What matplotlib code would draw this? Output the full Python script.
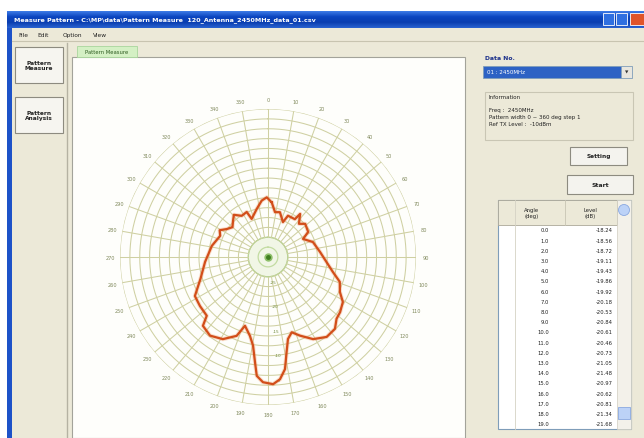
import numpy as np
import matplotlib
matplotlib.use("Agg")
import matplotlib.pyplot as plt
from matplotlib.patches import Rectangle, Circle
from matplotlib.colors import LinearSegmentedColormap

# pattern trace (deg clockwise from top, dB)
pattern_deg = [3.9, 8.9, 14.9, 23.2, 25.8, 35.4, 36.7, 43.0, 48.3, 58.0, 62.8, 71.6,
               84.5, 94.9, 103.0, 109.1, 115.9, 121.0, 127.4, 132.0, 137.0, 143.7,
               151.2, 157.9, 162.5, 166.3, 168.9, 171.4, 174.4, 177.7, 182.3, 185.4,
               187.1, 189.6, 192.9, 198.5, 201.7, 208.8, 216.4, 223.4, 226.2, 234.2,
               241.9, 252.0, 265.5, 281.3, 293.9, 299.0, 304.1, 310.0, 316.0, 321.0,
               327.5, 334.7, 336.8, 346.8, 353.6, 358.8]
pattern_db = [-18.9, -20.8, -20.6, -22.3, -20.7, -20.6, -19.1, -20.8, -19.9, -20.4, -22.0, -20.4,
              -19.4, -18.1, -16.5, -14.6, -13.8, -12.3, -11.6, -11.3, -10.1, -9.9,
              -11.0, -12.8, -14.0, -12.9, -10.4, -7.0, -5.1, -4.2, -4.6, -5.8,
              -8.6, -11.8, -13.6, -15.3, -12.8, -11.0, -10.2, -10.8, -12.8, -13.0,
              -13.2, -15.6, -17.2, -18.4, -19.4, -18.8, -19.9, -20.6, -19.8, -19.0,
              -20.1, -19.9, -21.6, -20.0, -18.5, -17.9]

angle_labels = list(range(0, 360, 10))
ring_levels = list(range(-26, 1, 2))
radial_labels = [-25, -20, -15, -10, -5]

table_angle = [float(a) for a in range(20)]
table_level = ["-18.24", "-18.56", "-18.72", "-19.11", "-19.43", "-19.86", "-19.92",
               "-20.18", "-20.53", "-20.84", "-20.61", "-20.46", "-20.73", "-21.05",
               "-21.48", "-20.97", "-20.62", "-20.81", "-21.34", "-21.68"]

menu_items = ["File", "Edit", "Option", "View"]
info_lines = ["Freq :  2450MHz", "Pattern width 0 ~ 360 deg step 1", "Ref TX Level :  -10dBm"]

W, H = 644, 439
fig = plt.figure(figsize=(W / 100, H / 100), dpi=100)
fig.patch.set_facecolor("white")
bg = fig.add_axes([0, 0, 1, 1])
bg.axis("off")

BEIGE = "#ece9d8"


def box(x, y, w, h, fc, ec="none", lw=0.8, z=1):
    bg.add_patch(Rectangle((x, y), w, h, facecolor=fc, edgecolor=ec, lw=lw, zorder=z))


def txt(x, y, s, size=4.3, color="#222222", z=5, **kw):
    kw.setdefault("va", "center")
    bg.text(x, y, s, fontsize=size, color=color, zorder=z, **kw)


# window frame
box(7, 29, W - 7, H - 29, BEIGE)
grad = np.linspace(0, 1, 40).reshape(-1, 1)
tcm = LinearSegmentedColormap.from_list("t", ["#3d7be6", "#0b45c0", "#0a3eb0", "#2a62d0"])
bg.imshow(grad, extent=[7, W, 29, 12], cmap=tcm, aspect="auto", zorder=2)
txt(14, 20.5, "Measure Pattern - C:\\MP\\data\\Pattern Measure  120_Antenna_2450MHz_data_01.csv",
    size=4.6, color="white", z=6, fontweight="bold")
box(603, 14, 11, 12, "#2f6fe0", ec="white", lw=0.6, z=4)
box(616, 14, 11, 12, "#2f6fe0", ec="white", lw=0.6, z=4)
box(630, 14, 14, 12, "#e0542a", ec="white", lw=0.6, z=4)
box(7, 29, 5, H - 29, "#1d52c8", z=3)

# menu
for x, s in zip([18, 37, 63, 93], menu_items):
    txt(x, 35.5, s, size=4.2)
bg.plot([12, W], [42, 42], color="#c8c4b0", lw=0.8, zorder=3)

# left buttons
for y0, s in [(48, "Pattern\nMeasure"), (98, "Pattern\nAnalysis")]:
    box(15, y0, 48, 36, "#f6f5f0", ec="#8d8b80", lw=0.8, z=3)
    txt(39, y0 + 18, s, size=4.2, ha="center", fontweight="bold", linespacing=1.2)
bg.plot([67, 67], [44, H], color="#b5b2a2", lw=1.0, zorder=3)

# tab + chart panel
box(77, 47, 60, 11, "#d4f0c4", ec="#a9d69c", lw=0.6, z=3)
txt(107, 52.5, "Pattern Measure", size=3.8, ha="center", color="#2d5a20")
box(72, 58, 393, H - 58, "#fefefb", ec="#a3a39a", lw=0.8, z=2)

# right panel
txt(485, 58, "Data No.", size=4.4, color="#1a2f8a", fontweight="bold")
box(483, 67, 138, 12, "#2d62c4", ec="#7f9db9", lw=0.6, z=3)
txt(487, 73, "01 : 2450MHz", size=4.0, color="white")
box(621, 67, 11, 12, "#e8e6de", ec="#7f9db9", lw=0.6, z=3)
txt(626.5, 73, "\u25bc", size=3.2, ha="center", color="#333333")

box(485, 93, 148, 48, BEIGE, ec="#c9c6b4", lw=0.8, z=3)
txt(489, 98, "Information", size=4.0)
for i, s in enumerate(info_lines):
    txt(489, 111 + i * 7, s, size=4.0)

box(570, 148, 57, 18, "#f4f3ee", ec="#8d8b80", lw=0.8, z=3)
txt(598.5, 157, "Setting", size=4.2, ha="center", fontweight="bold")
box(567, 176, 66, 19, "#f4f3ee", ec="#8d8b80", lw=0.8, z=3)
txt(600, 185.5, "Start", size=4.4, ha="center", fontweight="bold")

# table
box(498, 201, 133, 229, "white", ec="#7f9db9", lw=0.8, z=3)
box(498, 201, 119, 25, BEIGE, ec="#aca899", lw=0.6, z=4)
bg.plot([515, 515], [201, 430], color="#d5d2c4", lw=0.6, zorder=5)
bg.plot([565, 565], [201, 226], color="#c7c4b4", lw=0.6, zorder=5)
txt(532, 213.5, "Angle\n(deg)", size=3.8, ha="center", linespacing=1.1)
txt(590, 213.5, "Level\n(dB)", size=3.8, ha="center", linespacing=1.1)
box(617, 201, 14, 229, "#f3f1ea", ec="#d0cdbf", lw=0.5, z=4)
bg.add_patch(Circle((624, 211), 5.5, facecolor="#bcd2f7", edgecolor="#8aa8e0", lw=0.6, zorder=6))
bg.add_patch(Rectangle((618, 408), 12, 12, facecolor="#bcd2f7", edgecolor="#8aa8e0", lw=0.6, zorder=6))
for i, (a, lv) in enumerate(zip(table_angle, table_level)):
    y = 231 + i * 10.2
    txt(549, y, f"{a:.1f}", size=3.8, ha="right")
    txt(613, y, lv, size=3.8, ha="right")

bg.set_xlim(0, W)
bg.set_ylim(H, 0)

# polar chart
cx, cy, R = 268, 258, 148
ax = fig.add_axes([(cx - R) / W, (H - cy - R) / H, 2 * R / W, 2 * R / H], projection="polar")
ax.set_theta_zero_location("N")
ax.set_theta_direction(-1)
ax.set_facecolor("none")
ax.grid(False)
ax.set_xticks([])
ax.set_yticks([])
ax.spines["polar"].set_visible(False)

grid_c = "#cfd0a2"
th = np.linspace(0, 2 * np.pi, 721)
ax.fill_between(th, -30, -26, color="#f1f6e6", zorder=1)
for lev in ring_levels:
    ax.plot(th, np.full_like(th, lev), color=grid_c, lw=0.75, zorder=2)
ax.plot(th, np.full_like(th, -26), color="#b9d394", lw=0.9, zorder=2)
ax.plot(th, np.full_like(th, -28), color="#c3dca2", lw=0.9, zorder=2)
for a in angle_labels:
    t = np.deg2rad(a)
    ax.plot([t, t], [-26, 0], color=grid_c, lw=0.75, zorder=2)
    ax.text(t, 2.0, str(a), fontsize=3.6, color="#80895c", ha="center", va="center",
            clip_on=False)
for lv in radial_labels:
    ax.text(np.deg2rad(176), lv, str(lv), fontsize=3.0, color="#6f8a3c", ha="left",
            va="center")
ax.plot([0], [-30], "o", ms=5, color="#8ec06a", zorder=3)
ax.plot([0], [-30], "o", ms=2.5, color="#3f7f1f", zorder=4)

pd = np.deg2rad(np.array(pattern_deg + pattern_deg[:1]))
pv = np.array(pattern_db + pattern_db[:1])
ax.plot(pd, pv, color="#f0a070", lw=3.0, alpha=0.35, zorder=5)
ax.plot(pd, pv, color="#d24e1a", lw=1.6, zorder=6)
ax.set_ylim(-30, 0)

fig.savefig("out.png", dpi=100, facecolor="white")
